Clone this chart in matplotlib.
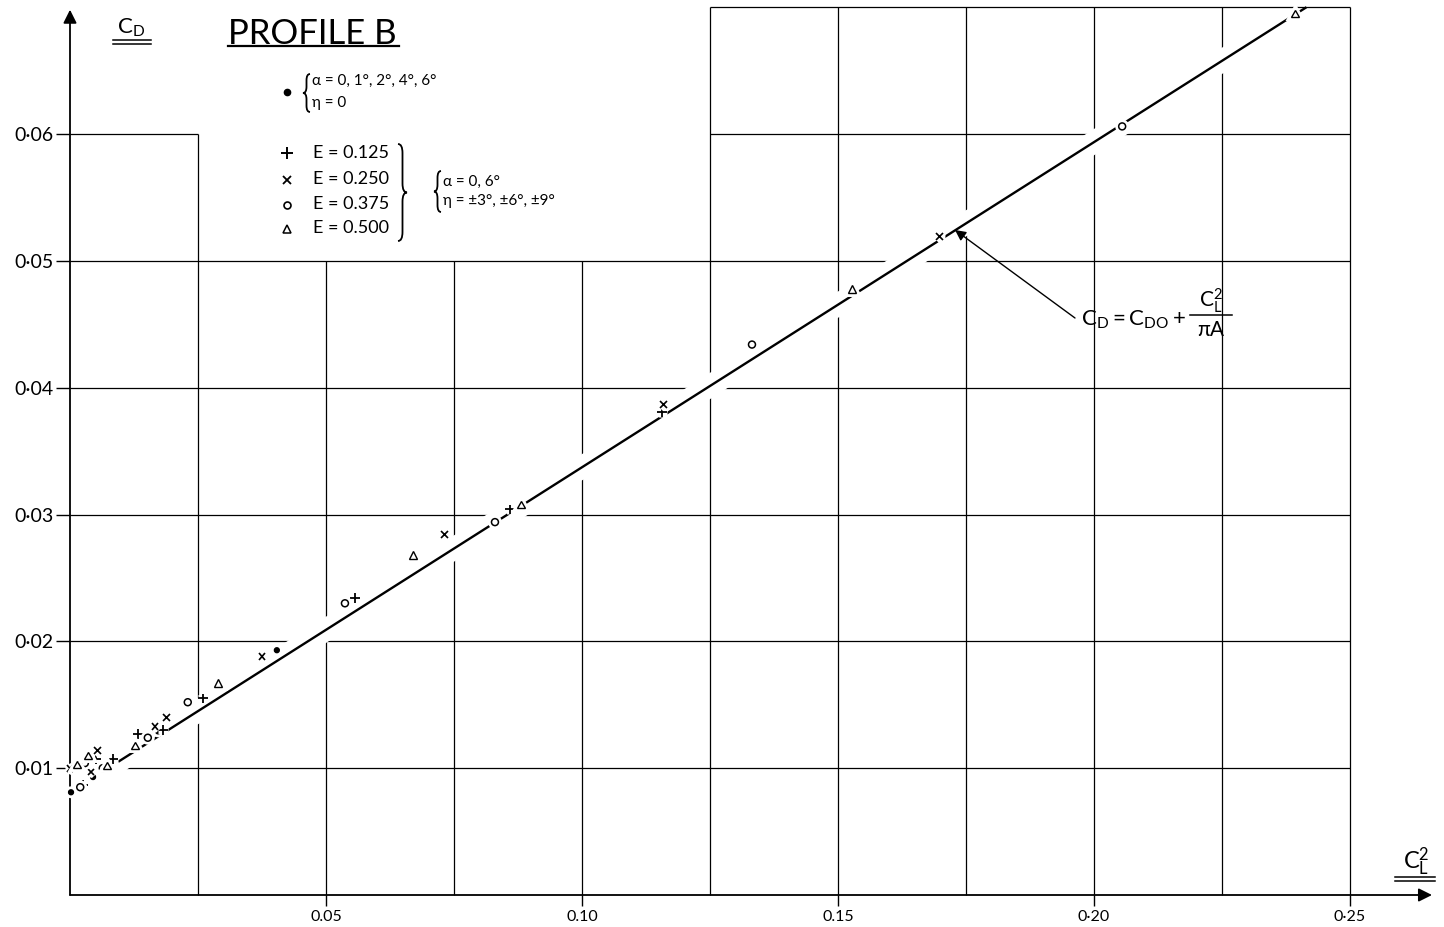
import matplotlib
matplotlib.use("Agg")
import matplotlib.pyplot as plt
import matplotlib.patheffects as pe
from matplotlib.lines import Line2D
from matplotlib.patches import PathPatch
from matplotlib.path import Path
from matplotlib.transforms import IdentityTransform

# C_L^2 / C_D, one pair of lists per marker type
eta0_cl2 = [0.0404, 0.0172, 0.0045, 0.0002]
eta0_cd = [0.0193, 0.0129, 0.0093, 0.0081]

e125_cl2 = [0.1156, 0.0859, 0.0557, 0.0260, 0.0133, 0.0182, 0.0051, 0.0084, 0.0025]
e125_cd = [0.0381, 0.0304, 0.0234, 0.0155, 0.0127, 0.0130, 0.0107, 0.0107, 0.0087]

e250_cl2 = [0.1699, 0.1160, 0.0732, 0.0375, 0.0189, 0.0166, 0.0053, 0.0041, 0.0]
e250_cd = [0.0519, 0.0387, 0.0284, 0.0188, 0.0140, 0.0133, 0.0114, 0.0097, 0.0100]

e375_cl2 = [0.2055, 0.1332, 0.0830, 0.0537, 0.0230, 0.0152, 0.0029, 0.0064, 0.0020]
e375_cd = [0.0606, 0.0434, 0.0294, 0.0230, 0.0152, 0.0124, 0.0104, 0.0100, 0.0085]

e500_cl2 = [0.2393, 0.1527, 0.0881, 0.0670, 0.0289, 0.0127, 0.0014, 0.0035, 0.0072]
e500_cd = [0.0695, 0.0478, 0.0308, 0.0268, 0.0167, 0.0118, 0.0103, 0.0110, 0.0102]

# drawn line C_D = C_D0 + C_L^2 / (pi A), end points
fit_cl2 = [0.0094, 0.2415]
fit_cd = [0.0105, 0.0700]

x_ticks = [0.05, 0.10, 0.15, 0.20, 0.25]
x_tick_labels = ["0.05", "0.10", "0.15", "0·20", "0·25"]
y_ticks = [0.01, 0.02, 0.03, 0.04, 0.05, 0.06]
y_tick_labels = ["0·01", "0·02", "0·03", "0·04", "0·05", "0·06"]

plt.rcParams["font.family"] = ["Lato", "DejaVu Sans"]
plt.rcParams["mathtext.fontset"] = "custom"
plt.rcParams["mathtext.rm"] = "Lato"
plt.rcParams["mathtext.it"] = "Lato"

W, H = 1444, 927
X0, Y0 = 70, 895          # origin in pixels
XR, YT = 1432, 2
SX, SY = 5120, 12683      # pixels per unit

fig = plt.figure(figsize=(W / 100, H / 100), dpi=100)
ax = fig.add_axes([X0 / W, (H - Y0) / H, (XR - X0) / W, (Y0 - YT) / H])
ax.set_xlim(0, (XR - X0) / SX)
ax.set_ylim(0, (Y0 - YT) / SY)
for s in ax.spines.values():
    s.set_visible(False)


def fx(px):
    return px / W


def fy(py):
    return 1 - py / H


def hline(y, x0, x1, z=1):
    ax.plot([x0, x1], [y, y], color="k", lw=0.9, zorder=z, solid_capstyle="butt", clip_on=False)


def vline(x, y0, y1, z=1):
    ax.plot([x, x], [y0, y1], color="k", lw=0.9, zorder=z, solid_capstyle="butt", clip_on=False)


def fig_line(x0, x1, y0, y1, lw=1.1):
    fig.add_artist(Line2D([fx(x0), fx(x1)], [fy(y0), fy(y1)], color="k", lw=lw))


def brace(side, x_tip, top, bot, w):
    # side=+1 draws "}", side=-1 draws "{"; x_tip is where the two ends sit
    m = (top + bot) / 2
    r = min(w, (bot - top) / 6)
    xb = x_tip + side * w / 2
    xc = x_tip + side * w
    pts = [(x_tip, top), (xb, top), (xb, top + r), (xb, m - r), (xb, m), (xc, m),
           (xb, m), (xb, m + r), (xb, bot - r), (xb, bot), (x_tip, bot)]
    codes = [Path.MOVETO, Path.CURVE3, Path.CURVE3, Path.LINETO, Path.CURVE3, Path.CURVE3,
             Path.CURVE3, Path.CURVE3, Path.LINETO, Path.CURVE3, Path.CURVE3]
    verts = [(x, H - y) for x, y in pts]
    fig.add_artist(PathPatch(Path(verts, codes), transform=IdentityTransform(),
                             fc="none", ec="k", lw=1.3))


# partial grid as on the original sheet
hline(0.01, 0.011, 0.25)
for y in [0.02, 0.03, 0.04, 0.05]:
    hline(y, 0, 0.25)
hline(0.06, 0, 0.025)
hline(0.06, 0.125, 0.25)
hline(0.07, 0.125, 0.25, z=2.5)
vline(0.025, 0, 0.06)
for x in [0.05, 0.075, 0.10]:
    vline(x, 0, 0.05)
for x in [0.125, 0.15, 0.175, 0.20, 0.225, 0.25]:
    vline(x, 0, 0.07)

# axes with arrows
ax.annotate("", xy=(0, 0.0698), xytext=(0, 0), annotation_clip=False,
            arrowprops=dict(arrowstyle="-|>", lw=1.3, color="k", mutation_scale=20, shrinkA=0, shrinkB=0))
ax.annotate("", xy=((XR - X0) / SX, 0), xytext=(0, 0), annotation_clip=False,
            arrowprops=dict(arrowstyle="-|>", lw=1.3, color="k", mutation_scale=20, shrinkA=0, shrinkB=0))

ax.set_xticks(x_ticks)
ax.set_xticklabels(x_tick_labels, fontsize=11.5)
ax.set_yticks(y_ticks)
ax.set_yticklabels(y_tick_labels, fontsize=14)
ax.tick_params(axis="x", length=8, width=1, pad=3)
ax.tick_params(axis="y", length=10, width=1, pad=2)

# fitted line, with a white margin that breaks the grid around it
ax.plot(fit_cl2, fit_cd, color="white", lw=16, zorder=2, solid_capstyle="butt")
ax.plot(fit_cl2, fit_cd, color="k", lw=1.7, zorder=3, solid_capstyle="butt")

halo = [pe.withStroke(linewidth=5, foreground="white")]
kw = dict(ls="none", color="k", zorder=4, clip_on=False, path_effects=halo)
ax.plot(eta0_cl2, eta0_cd, marker="o", ms=3.5, **kw)
ax.plot(e125_cl2, e125_cd, marker="+", ms=7, mew=1.3, **kw)
ax.plot(e250_cl2, e250_cd, marker="x", ms=5, mew=1.2, **kw)
ax.plot(e375_cl2, e375_cd, marker="o", ms=5, mew=1.1, mfc="white", **kw)
ax.plot(e500_cl2, e500_cd, marker="^", ms=5.5, mew=1.0, mfc="white", **kw)

# annotation for the line
ax.annotate("", xy=((955 - X0) / SX, (Y0 - 230) / SY), xytext=((1075 - X0) / SX, (Y0 - 318) / SY),
            annotation_clip=False,
            arrowprops=dict(arrowstyle="-|>", lw=1.0, color="k", mutation_scale=16, shrinkA=0, shrinkB=0))
fig.text(fx(1081), fy(326), r"$\mathrm{C}_\mathrm{D} = \mathrm{C}_\mathrm{DO} +$", fontsize=16,
         ha="left", va="baseline")
fig.text(fx(1211), fy(307), r"$\mathrm{C}_\mathrm{L}^2$", fontsize=15, ha="center", va="baseline")
fig_line(1190, 1232, 315, 315, lw=1.1)
fig.text(fx(1211), fy(336), "πA", fontsize=15, ha="center", va="baseline")

# titles and axis names
fig.text(fx(228), fy(44), "PROFILE B", fontsize=25, ha="left", va="baseline")
fig_line(228, 399, 46, 46, lw=1.6)

fig.text(fx(117), fy(34), r"$\mathrm{C}_\mathrm{D}$", fontsize=16, ha="left", va="baseline")
for yy in [40, 44]:
    fig_line(113, 151, yy, yy)

fig.text(fx(1403), fy(869), r"$\mathrm{C}_\mathrm{L}^2$", fontsize=17, ha="left", va="baseline")
for yy in [877, 881]:
    fig_line(1395, 1435, yy, yy)

# legend block
lg = dict(ls="none", color="k", transform=fig.transFigure, clip_on=False)
fig.add_artist(Line2D([fx(287)], [fy(92)], marker="o", ms=4.5, **lg))
brace(-1, 310, 74, 112, 7)
fig.text(fx(312), fy(81), "α = 0, 1°, 2°, 4°, 6°", fontsize=11, va="center")
fig.text(fx(312), fy(103), "η = 0", fontsize=11, va="center")

fig.add_artist(Line2D([fx(287)], [fy(153)], marker="+", ms=8, mew=1.4, **lg))
fig.add_artist(Line2D([fx(287)], [fy(180)], marker="x", ms=6, mew=1.3, **lg))
fig.add_artist(Line2D([fx(287)], [fy(205)], marker="o", ms=5, mew=1.2, mfc="white", **lg))
fig.add_artist(Line2D([fx(287)], [fy(229)], marker="^", ms=6, mew=1.1, mfc="white", **lg))
for yy, lab in zip([153, 179, 204, 228], ["E = 0.125", "E = 0.250", "E = 0.375", "E = 0.500"]):
    fig.text(fx(313), fy(yy), lab, fontsize=13, va="center")
brace(1, 398, 144, 241, 9)
brace(-1, 441, 171, 212, 7)
fig.text(fx(443), fy(182), "α = 0, 6°", fontsize=11, va="center")
fig.text(fx(443), fy(201), "η = ±3°, ±6°, ±9°", fontsize=11, va="center")

fig.savefig("out.png", dpi=100)
